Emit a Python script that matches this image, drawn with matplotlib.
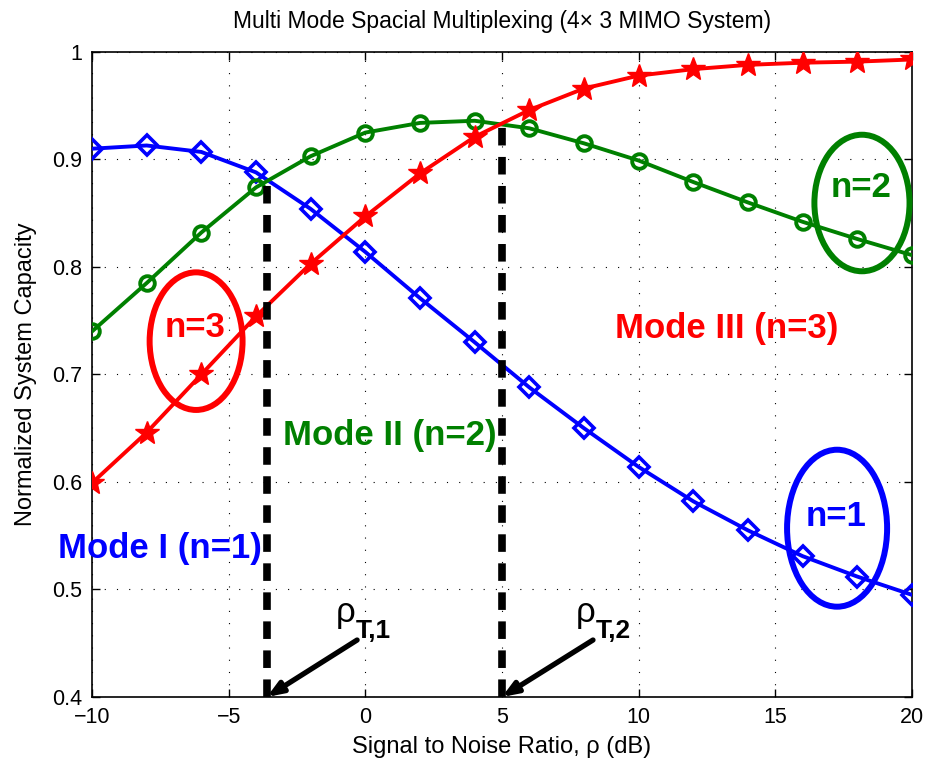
import numpy as np
import matplotlib
matplotlib.use('Agg')
from matplotlib import pyplot as plt
from matplotlib.patches import Ellipse

plt.rcParams['font.family'] = ['Liberation Sans', 'DejaVu Sans']

# SNR sweep (dB)
snr = [-10, -8, -6, -4, -2, 0, 2, 4, 6, 8, 10, 12, 14, 16, 18, 20]

# normalized capacity per mode
cap_n1 = [0.910, 0.913, 0.907, 0.888, 0.854, 0.814, 0.771, 0.730,
          0.688, 0.650, 0.614, 0.582, 0.555, 0.531, 0.512, 0.495]
cap_n2 = [0.740, 0.785, 0.832, 0.874, 0.903, 0.925, 0.934, 0.936,
          0.929, 0.915, 0.899, 0.879, 0.860, 0.842, 0.826, 0.811]
cap_n3 = [0.599, 0.646, 0.700, 0.754, 0.803, 0.847, 0.887, 0.921,
          0.946, 0.966, 0.978, 0.984, 0.988, 0.990, 0.991, 0.993]

# switching thresholds
rho_t1 = -3.6
rho_t2 = 5.0
cap_t1 = 0.880
cap_t2 = 0.932

blue = (0, 0, 1)
green = (0, 0.5, 0)
red = (1, 0, 0)

fig = plt.figure(figsize=(9.27, 7.64), dpi=100)
ax = fig.add_axes([0.0992, 0.0877, 0.8846, 0.8443])

ax.plot(snr, cap_n1, '-', color=blue, lw=2.8, marker='D', ms=10.5,
        mfc='none', mec=blue, mew=2.6, zorder=4)
ax.plot(snr, cap_n2, '-', color=green, lw=2.8, marker='o', ms=10.5,
        mfc='none', mec=green, mew=2.8, zorder=4)
ax.plot(snr, cap_n3, '-', color=red, lw=2.8, marker='*', ms=18,
        mfc=red, mec=red, mew=1, zorder=4)

# thresholds
for xt, yt in [(rho_t1, cap_t1), (rho_t2, cap_t2)]:
    ax.plot([xt, xt], [0.4, yt], color='k', lw=5.5, dashes=(2.3, 1.5),
            dash_capstyle='butt', zorder=5, clip_on=False)

arrow = dict(arrowstyle='-|>,head_length=0.9,head_width=0.35', lw=3.8,
             color='k', shrinkA=0, shrinkB=0)
ax.annotate('', xy=(rho_t1, 0.4), xytext=(-0.3, 0.453), arrowprops=arrow,
            annotation_clip=False, zorder=6)
ax.annotate('', xy=(rho_t2, 0.4), xytext=(8.33, 0.453), arrowprops=arrow,
            annotation_clip=False, zorder=6)
ax.text(-0.71, 0.4698, '\u03c1', fontsize=25, ha='center', va='baseline')
ax.text(-0.34, 0.4549, 'T,1', fontsize=19, fontweight='bold',
        ha='left', va='baseline')
ax.text(8.07, 0.4698, '\u03c1', fontsize=25, ha='center', va='baseline')
ax.text(8.44, 0.4549, 'T,2', fontsize=19, fontweight='bold',
        ha='left', va='baseline')

# operating regions
ax.text(-7.51, 0.5377, 'Mode I (n=1)', color=blue, fontsize=25,
        fontweight='bold', ha='center', va='center', zorder=7)
ax.text(0.90, 0.643, 'Mode II (n=2)', color=green, fontsize=25,
        fontweight='bold', ha='center', va='center', zorder=7)
ax.text(13.21, 0.743, 'Mode III (n=3)', color=red, fontsize=25,
        fontweight='bold', ha='center', va='center', zorder=7)

for (cx, cy, w, h, col, lab, ty) in [
        (-6.19, 0.731, 3.40, 0.128, red, 'n=3', 0.744),
        (18.17, 0.8595, 3.48, 0.127, green, 'n=2', 0.874),
        (17.26, 0.557, 3.66, 0.146, blue, 'n=1', 0.568)]:
    ax.add_patch(Ellipse((cx, cy), w, h, fill=False, ec=col, lw=4.3,
                         zorder=5, clip_on=False))
    ax.text(cx - 0.05, ty, lab, color=col, fontsize=25, fontweight='bold',
            ha='center', va='center', zorder=7)

ax.set_xlim(-10, 20)
ax.set_ylim(0.4, 1.0)
ax.set_xticks([-10, -5, 0, 5, 10, 15, 20])
ax.set_xticklabels(['\u221210', '\u22125', '0', '5', '10', '15', '20'])
ax.set_yticks([0.4, 0.5, 0.6, 0.7, 0.8, 0.9, 1.0])
ax.set_yticklabels(['0.4', '0.5', '0.6', '0.7', '0.8', '0.9', '1'])
ax.tick_params(direction='in', length=6, width=1, top=True, right=True,
               labelsize=15.5, pad=7)
ax.grid(True, color='k', ls=(0, (1, 10)), lw=0.8)
for sp in ax.spines.values():
    sp.set_linewidth(1.2)

ax.set_xlabel('Signal to Noise Ratio, \u03c1 (dB)', fontsize=17, labelpad=6)
ax.set_ylabel('Normalized System Capacity', fontsize=17, labelpad=11)
ax.set_title('Multi Mode Spacial Multiplexing (4\u00d7 3 MIMO System)',
             fontsize=16.5, pad=17)

fig.savefig('out.png', dpi=100)
